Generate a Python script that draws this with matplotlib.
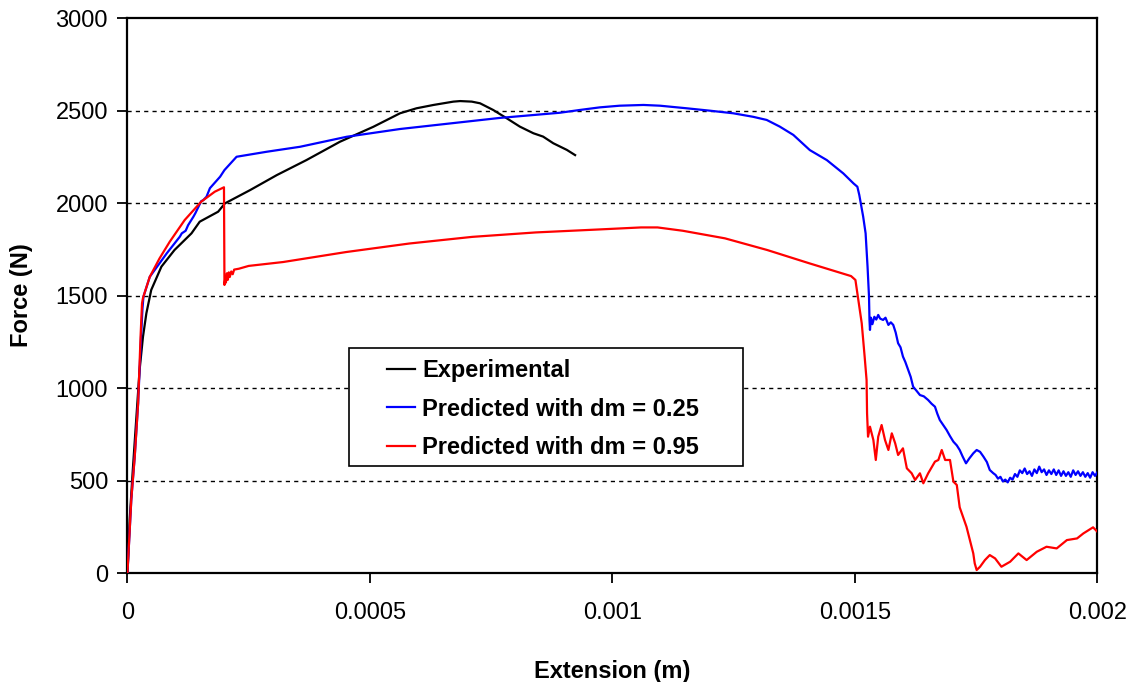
import numpy as np
import matplotlib
matplotlib.use("Agg")
import matplotlib.pyplot as plt
from matplotlib.patches import Rectangle

plt.rcParams['font.family'] = ['Liberation Sans', 'DejaVu Sans']

# Extension values are given in units of 1e-4 m, force in N
exp_ext = [0, 0.045, 0.11, 0.18, 0.25, 0.32, 0.39, 0.49, 0.70, 0.97, 1.32, 1.49,
           1.87, 2.01, 2.53, 3.08, 3.69, 4.38, 5.07, 5.62, 5.96, 6.31, 6.72, 6.86,
           7.10, 7.27, 7.54, 7.82, 8.09, 8.37, 8.57, 8.78, 9.06, 9.23]
exp_force = [0, 286, 557, 827, 1097, 1277, 1404, 1530, 1656, 1746, 1836, 1899,
             1953, 1998, 2070, 2151, 2232, 2331, 2412, 2485, 2512, 2530, 2548, 2551,
             2548, 2539, 2503, 2458, 2413, 2377, 2359, 2323, 2287, 2259]

dm25_ext = [0, 0.08, 0.15, 0.22, 0.28, 0.31, 0.33, 0.46, 0.81, 1.08, 1.12, 1.20,
            1.25, 1.36, 1.40, 1.52, 1.56, 1.63, 1.70, 1.91, 2.00, 2.25, 2.87, 3.56,
            4.52, 5.62, 7.68, 8.92, 9.33, 9.74, 10.15, 10.64, 10.98, 11.53, 12.01,
            12.49, 12.90, 13.18, 13.45, 13.73, 14.07, 14.42, 14.76, 14.97, 15.05,
            15.09, 15.17, 15.22, 15.26, 15.29, 15.30, 15.31, 15.33, 15.36, 15.40,
            15.44, 15.48, 15.52, 15.58, 15.63, 15.69, 15.74, 15.79, 15.84, 15.89,
            15.94, 15.99, 16.04, 16.10, 16.15, 16.20, 16.27, 16.34, 16.42, 16.51,
            16.58, 16.65, 16.70, 16.75, 16.82, 16.89, 16.96, 17.03, 17.10, 17.16,
            17.22, 17.29, 17.36, 17.44, 17.51, 17.58, 17.65, 17.72, 17.78, 17.85,
            17.90, 17.95, 18.00, 18.05, 18.10, 18.15, 18.20, 18.25, 18.30, 18.35,
            18.40, 18.45, 18.50, 18.55, 18.60, 18.65, 18.70, 18.75, 18.80, 18.85,
            18.90, 18.95, 19.00, 19.05, 19.10, 19.15, 19.20, 19.25, 19.30, 19.35,
            19.40, 19.45, 19.50, 19.55, 19.60, 19.65, 19.70, 19.75, 19.80, 19.85,
            19.90, 19.95, 20.00]
dm25_force = [0, 400, 630, 918, 1277, 1431, 1494, 1601, 1728, 1818, 1836, 1850,
              1880, 1926, 1945, 2010, 2015, 2034, 2080, 2142, 2178, 2250, 2277, 2304,
              2358, 2400, 2460, 2488, 2503, 2517, 2526, 2530, 2526, 2512, 2499,
              2485, 2466, 2449, 2413, 2368, 2286, 2232, 2160, 2106, 2088,
              2043, 1926, 1836, 1656, 1494, 1368, 1314, 1380, 1345, 1385,
              1370, 1395, 1375, 1368, 1380, 1341, 1355, 1341, 1300, 1242,
              1220, 1170, 1140, 1097, 1060, 1007, 985, 962, 955, 935,
              915, 899, 860, 827, 800, 773, 740, 710, 690, 665,
              630, 593, 620, 647, 665, 655, 629, 600, 557, 540,
              530, 510, 520, 495, 505, 490, 515, 505, 535, 520,
              555, 540, 565, 535, 550, 525, 560, 540, 575, 545,
              560, 530, 555, 535, 560, 530, 555, 525, 550, 525,
              545, 520, 555, 530, 550, 525, 545, 520, 540, 515,
              545, 525, 545]

dm95_ext = [0, 0.08, 0.15, 0.22, 0.27, 0.30, 0.32, 0.46, 0.66, 0.87, 1.18, 1.52,
            1.80, 1.99, 2.00, 2.02, 2.03, 2.05, 2.07, 2.09, 2.11, 2.14, 2.17, 2.20,
            2.30, 2.50, 3.21, 4.51, 5.81, 7.11, 8.42, 9.72, 10.59, 10.93, 11.45,
            12.32, 13.19, 14.06, 14.92, 15.01, 15.14, 15.20, 15.24, 15.25, 15.27,
            15.31, 15.38, 15.43, 15.48, 15.55, 15.62, 15.69, 15.76, 15.83, 15.89,
            15.99, 16.07, 16.17, 16.24, 16.34, 16.41, 16.51, 16.65, 16.72, 16.79,
            16.86, 16.96, 17.03, 17.10, 17.16, 17.30, 17.44, 17.47, 17.51, 17.58,
            17.68, 17.78, 17.89, 18.02, 18.20, 18.37, 18.54, 18.75, 18.95, 19.16,
            19.37, 19.58, 19.71, 19.91, 20.0]
dm95_force = [0, 403, 630, 918, 1277, 1457, 1487, 1601, 1700, 1790, 1908, 2007,
              2061, 2085, 1557, 1600, 1570, 1620, 1585, 1625, 1600, 1630, 1615, 1640,
              1645, 1660, 1681, 1735, 1781, 1817, 1841, 1857, 1868, 1868, 1850,
              1809, 1746, 1674, 1605, 1584, 1350, 1170, 1043, 863, 737,
              791, 719, 611, 737, 800, 719, 665, 755, 701, 638,
              674, 566, 539, 503, 539, 485, 539, 602, 611, 665,
              611, 611, 494, 476, 355, 250, 106, 52, 16, 34,
              70, 97, 79, 34, 61, 106, 70, 115, 142, 133,
              178, 187, 214, 247, 223]

x_ticks = [0, 0.0005, 0.001, 0.0015, 0.002]
x_tick_labels = ['0', '0.0005', '0.001', '0.0015', '0.002']
y_ticks = [0, 500, 1000, 1500, 2000, 2500, 3000]

FS = 17

fig = plt.figure(figsize=(11.35, 6.82), dpi=100)
ax = fig.add_axes([0.1123, 0.1598, 0.8546, 0.8138])

# horizontal dashed grid
for yv in y_ticks[1:-1]:
    ax.axhline(yv, color='black', lw=1.0, ls=(0, (3, 3)), zorder=1)

scale = 1e-4
l_exp, = ax.plot(np.array(exp_ext) * scale, exp_force, color='black', lw=1.6,
                 label='Experimental', zorder=3)
l_25, = ax.plot(np.array(dm25_ext) * scale, dm25_force, color='#0000FF', lw=1.6,
                label='Predicted with dm = 0.25', zorder=3)
l_95, = ax.plot(np.array(dm95_ext) * scale, dm95_force, color='#FF0000', lw=1.6,
                label='Predicted with dm = 0.95', zorder=4)

ax.set_xlim(0, 0.002)
ax.set_ylim(0, 3000)
ax.set_xticks(x_ticks)
ax.set_xticklabels(x_tick_labels)
ax.set_yticks(y_ticks)

for sp in ax.spines.values():
    sp.set_linewidth(1.6)
    sp.set_color('black')

ax.tick_params(axis='both', direction='out', length=7, width=1.3, labelsize=FS,
               colors='black')
ax.tick_params(axis='x', pad=14)
ax.tick_params(axis='y', pad=7)

ax.set_xlabel('Extension (m)', fontsize=FS, fontweight='bold', labelpad=26)
ax.set_ylabel('Force (N)', fontsize=FS, fontweight='bold', labelpad=16)

# legend frame drawn as a plain rectangle, entries placed inside it
ax.add_patch(Rectangle((0.2287, 0.1928), 0.4062, 0.2121, transform=ax.transAxes,
                       facecolor='white', edgecolor='black', lw=1.2, zorder=5))
leg = ax.legend(handles=[l_exp, l_25, l_95], loc='upper left',
                bbox_to_anchor=(0.2672, 0.385), frameon=False, borderpad=0,
                borderaxespad=0, handlelength=1.2, handletextpad=0.3,
                labelspacing=0.65, prop={'size': FS, 'weight': 'bold'})
leg.set_zorder(6)

fig.savefig('out.png', dpi=100)
